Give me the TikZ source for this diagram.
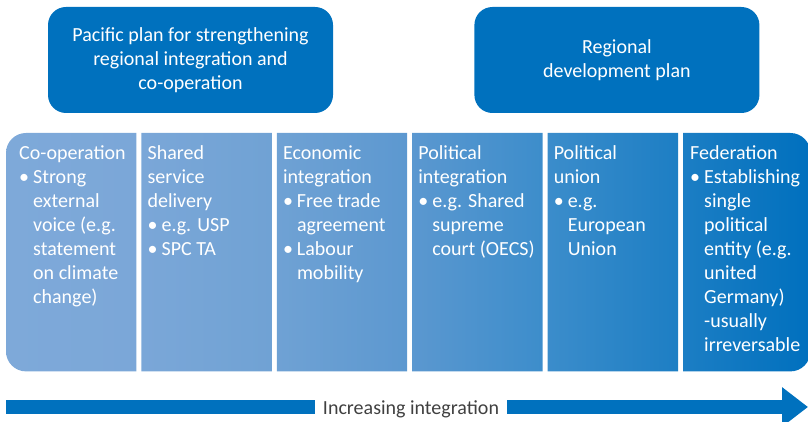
\documentclass[tikz,border=0pt]{standalone}
\usepackage{fontspec}
\setmainfont{Carlito}
\usetikzlibrary{positioning, arrows.meta}

\definecolor{planblue}{RGB}{0,113,190}
\definecolor{labelgrey}{RGB}{64,64,64}
% colours along the stage band, left to right
\definecolor{band0}{RGB}{126,169,217}
\definecolor{band1}{RGB}{123,167,216}
\definecolor{band2}{RGB}{112,162,212}
\definecolor{band3}{RGB}{92,152,208}
\definecolor{band4}{RGB}{60,141,203}
\definecolor{band5}{RGB}{28,126,196}
\definecolor{band6}{RGB}{0,112,190}

\pgfdeclarehorizontalshading{stageband}{100bp}{color(0bp)=(band0); color(25bp)=(band0);
    color(33bp)=(band1); color(41.5bp)=(band2); color(50bp)=(band3);
    color(58.5bp)=(band4); color(67bp)=(band5); color(75bp)=(band6); color(100bp)=(band6)}

% bullet lines with a hanging indent
\newcommand{\bulletline}{\makebox[14pt][l]{\textbullet}}
\newcommand{\hangline}{\hspace*{14pt}}

\tikzset{
    plan/.style={fill=planblue, rounded corners=18pt, text=white, align=center,
        minimum width=285pt, minimum height=106pt, font=\fontsize{20}{24}\selectfont},
    stage/.style={minimum width=130pt, minimum height=238pt, inner sep=0pt},
    stagetext/.style={anchor=north west, inner sep=0pt, align=left, text=white,
        font=\fontsize{20}{24}\selectfont},
    bar/.style={draw=planblue, line width=14pt},
}

\begin{document}
\begin{tikzpicture}[x=1pt, y=1pt]
    \useasboundingbox (0,0) rectangle (808,422);

    % the two plans
    \node[plan]                             (Pacific Plan)  at (190.5,362) {Pacific plan for strengthening\\regional integration and\\co-operation};
    \node[plan, right=141pt of Pacific Plan] (Regional Plan) {Regional\\development plan};

    % the six stages
    \node[stage, anchor=north west]                  (Stage 1) at (6,289) {};
    \node[stage, right=5pt of Stage 1]               (Stage 2) {};
    \node[stage, right=5pt of Stage 2]               (Stage 3) {};
    \node[stage, right=5pt of Stage 3]               (Stage 4) {};
    \node[stage, right=5pt of Stage 4]               (Stage 5) {};
    \node[stage, right=5pt of Stage 5, minimum width=127pt] (Stage 6) {};

    % one shade across all stages, outer corners rounded
    \begin{scope}
        \clip[rounded corners=20pt]
            (Stage 1.south west) rectangle (Stage 1.north east)
            (Stage 6.south west) rectangle (Stage 6.north east)
            [sharp corners]
            (Stage 1.south) rectangle (Stage 1.north east)
            (Stage 2.south west) rectangle (Stage 2.north east)
            (Stage 3.south west) rectangle (Stage 3.north east)
            (Stage 4.south west) rectangle (Stage 4.north east)
            (Stage 5.south west) rectangle (Stage 5.north east)
            (Stage 6.south west) rectangle (Stage 6.north);
        \shade[shading=stageband]
            (Stage 1.south west) rectangle (Stage 6.north east);
    \end{scope}

    \node[stagetext] at ([shift={(13pt,-10pt)}]Stage 1.north west)
        {\strut Co-operation\\\bulletline Strong\\\hangline external\\\hangline voice (e.g.\\\hangline statement\\\hangline on climate\\\hangline change)};
    \node[stagetext] at ([shift={(6pt,-10pt)}]Stage 2.north west)
        {\strut Shared\\service\\delivery\\\bulletline e.g. USP\\\bulletline SPC TA};
    \node[stagetext] at ([shift={(6pt,-10pt)}]Stage 3.north west)
        {\strut Economic\\integration\\\bulletline Free trade\\\hangline agreement\\\bulletline Labour\\\hangline mobility};
    \node[stagetext] at ([shift={(6pt,-10pt)}]Stage 4.north west)
        {\strut Political\\integration\\\bulletline e.g. Shared\\\hangline supreme\\\hangline court (OECS)};
    \node[stagetext] at ([shift={(6pt,-10pt)}]Stage 5.north west)
        {\strut Political\\union\\\bulletline e.g.\\\hangline European\\\hangline Union};
    \node[stagetext] at ([shift={(7pt,-10pt)}]Stage 6.north west)
        {\strut Federation\\\bulletline Establishing\\\hangline single\\\hangline political\\\hangline entity (e.g.\\\hangline united\\\hangline Germany)\\\hangline -usually\\\hangline irreversable};

    % increasing integration
    \coordinate (Start)  at (6,15);
    \coordinate (Finish) at (808,15);
    \node[anchor=base, text=labelgrey, font=\fontsize{20}{24}\selectfont, inner xsep=8pt]
        (Increasing) at (411,7) {Increasing integration};
    \draw[bar] (Start) -- (Start -| Increasing.west);
    \draw[bar, -{Triangle[length=26pt, width=38pt]}] (Increasing.east |- Finish) -- (Finish);
\end{tikzpicture}
\end{document}
